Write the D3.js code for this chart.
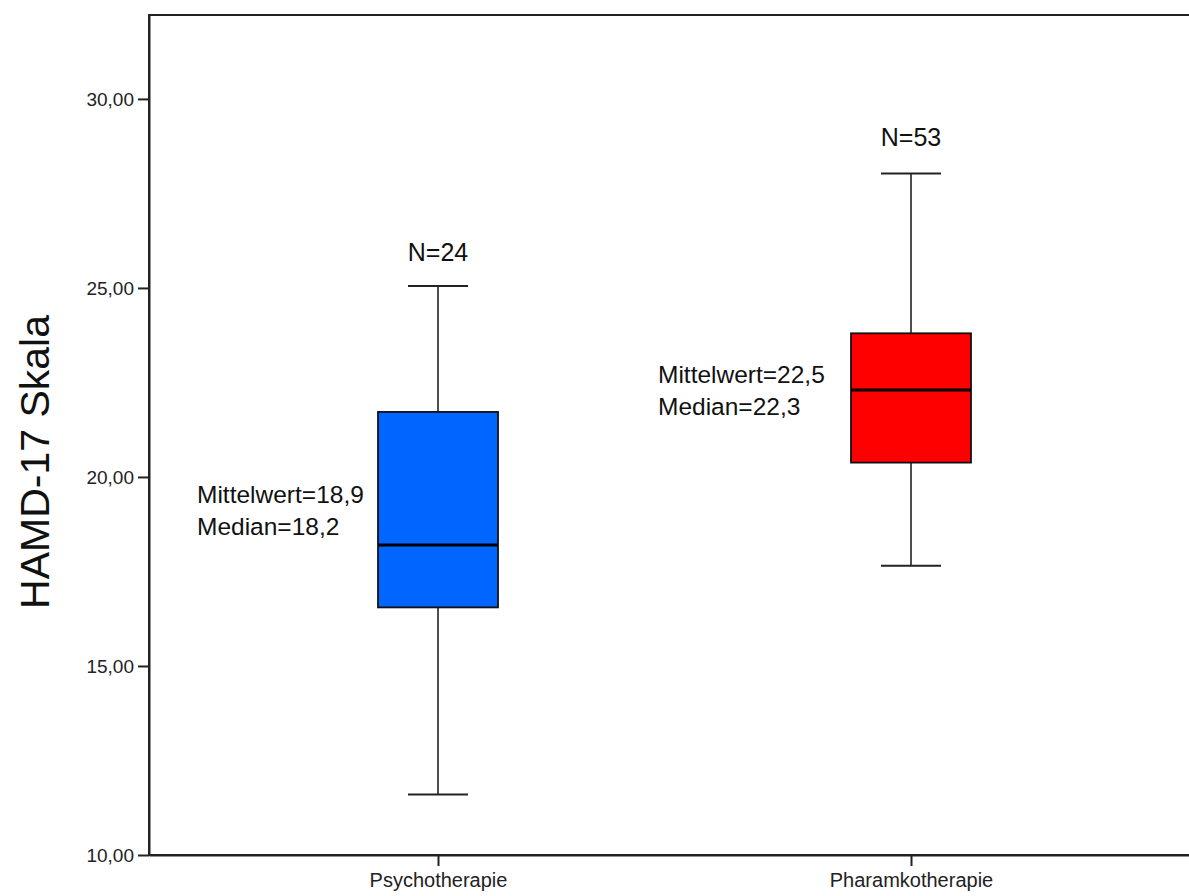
<!DOCTYPE html>
<html>
<head>
<meta charset="utf-8">
<script src="https://cdn.jsdelivr.net/npm/d3@7"></script>
<style>
  html, body { margin: 0; padding: 0; background: #fff; }
  svg { display: block; font-family: "Liberation Sans", Arial, sans-serif; }
</style>
</head>
<body>
<svg id="chart" width="1189" height="896"></svg>
<script>
// Therapy groups and their HAMD-17 box plot statistics
const groups      = ["Psychotherapie", "Pharamkotherapie"];
const groupN      = [24, 53];
const meanValues  = [18.9, 22.5];
const medianValues = [18.2, 22.3];
const q1Values    = [16.55, 20.38];
const q3Values    = [21.72, 23.80];
const whiskerLow  = [11.60, 17.65];
const whiskerHigh = [25.05, 28.03];
const boxColors   = ["#0066ff", "#ff0000"];
const yTicks      = [10, 15, 20, 25, 30];

const svg = d3.select("#chart");
const plot = { left: 149, top: 15, right: 1200, bottom: 855 };

const y = d3.scaleLinear().domain([10, 32.22]).range([plot.bottom, plot.top]);
const x = d3.scalePoint().domain(groups).range([plot.left, plot.right]).padding(0.611);

const fmt = v => d3.format(".2f")(v).replace(".", ",");
const fmt1 = v => d3.format(".1f")(v).replace(".", ",");

// plot frame (right edge lies beyond the visible area)
svg.append("rect")
  .attr("x", plot.left).attr("y", plot.top)
  .attr("width", plot.right - plot.left).attr("height", plot.bottom - plot.top)
  .attr("fill", "none").attr("stroke", "#222").attr("stroke-width", 2);

// y axis
const yAxis = svg.append("g")
  .attr("transform", `translate(${plot.left},0)`)
  .call(d3.axisLeft(y).tickValues(yTicks).tickFormat(fmt).tickSize(11).tickSizeOuter(0));
yAxis.select(".domain").attr("stroke", "#222").attr("stroke-width", 2);
yAxis.selectAll(".tick line").attr("stroke", "#222").attr("stroke-width", 2);
yAxis.selectAll(".tick text")
  .attr("x", -15).attr("font-size", 19).attr("fill", "#222")
  .attr("font-family", "Liberation Sans, Arial, sans-serif");

// x axis
const xAxis = svg.append("g")
  .attr("transform", `translate(0,${plot.bottom})`)
  .call(d3.axisBottom(x).tickSize(11).tickSizeOuter(0));
xAxis.select(".domain").attr("stroke", "#222").attr("stroke-width", 2);
xAxis.selectAll(".tick line").attr("stroke", "#222").attr("stroke-width", 2);
xAxis.selectAll(".tick text")
  .attr("y", 18).attr("dy", "0.71em").attr("font-size", 20).attr("fill", "#222")
  .attr("font-family", "Liberation Sans, Arial, sans-serif");

// y axis title
svg.append("text")
  .attr("transform", `translate(49,462) rotate(-90)`)
  .attr("text-anchor", "middle")
  .attr("font-size", 41).attr("fill", "#111")
  .text("HAMD-17 Skala");

const boxW = 120, capW = 60;
// horizontal gap between annotation start and box edge, per group
const noteGap = [181, 193];

groups.forEach((g, i) => {
  const cx = x(g);
  const gg = svg.append("g");

  // whiskers
  gg.append("line").attr("x1", cx).attr("x2", cx)
    .attr("y1", y(whiskerHigh[i])).attr("y2", y(q3Values[i]))
    .attr("stroke", "#222").attr("stroke-width", 1.6);
  gg.append("line").attr("x1", cx).attr("x2", cx)
    .attr("y1", y(q1Values[i])).attr("y2", y(whiskerLow[i]))
    .attr("stroke", "#222").attr("stroke-width", 1.6);
  [whiskerHigh[i], whiskerLow[i]].forEach(v => {
    gg.append("line").attr("x1", cx - capW / 2).attr("x2", cx + capW / 2)
      .attr("y1", y(v)).attr("y2", y(v))
      .attr("stroke", "#222").attr("stroke-width", 2);
  });

  // box
  gg.append("rect")
    .attr("x", cx - boxW / 2).attr("width", boxW)
    .attr("y", y(q3Values[i])).attr("height", y(q1Values[i]) - y(q3Values[i]))
    .attr("fill", boxColors[i]).attr("stroke", "#111").attr("stroke-width", 1.8);

  // median
  gg.append("line").attr("x1", cx - boxW / 2).attr("x2", cx + boxW / 2)
    .attr("y1", y(medianValues[i])).attr("y2", y(medianValues[i]))
    .attr("stroke", "#000").attr("stroke-width", 3.2);

  // group size above upper whisker
  gg.append("text")
    .attr("x", cx).attr("y", y(whiskerHigh[i]) - (i === 0 ? 25 : 27))
    .attr("text-anchor", "middle").attr("font-size", 25).attr("fill", "#111")
    .text("N=" + groupN[i]);

  // mean / median annotation left of the box
  const lx = cx - boxW / 2 - noteGap[i];
  const ly = y(medianValues[i]) - (i === 0 ? 42 : 7);
  gg.append("text").attr("x", lx).attr("y", ly)
    .attr("font-size", 24.5).attr("fill", "#111")
    .text("Mittelwert=" + fmt1(meanValues[i]));
  gg.append("text").attr("x", lx).attr("y", ly + 32)
    .attr("font-size", 24.5).attr("fill", "#111")
    .text("Median=" + fmt1(medianValues[i]));
});
</script>
</body>
</html>
